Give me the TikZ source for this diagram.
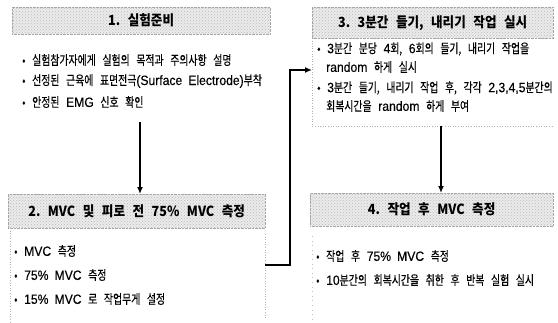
\documentclass[tikz,border=0pt]{standalone}
\usepackage{fontspec}
\newfontfamily\kr[FakeStretch=0.76, WordSpace=3.0, FakeBold=0.35]{Noto Sans CJK KR}
\newfontfamily\krh[FakeStretch=0.9, WordSpace=2.6]{Noto Sans CJK KR}
\newfontfamily\latf[FakeStretch=0.9, WordSpace=1.8, FakeBold=0.3]{Liberation Sans}
\newcommand\LatTxt[1]{{\latf\fontsize{13.5}{15}\selectfont #1}}
\usetikzlibrary{arrows.meta,patterns}
\tikzset{
  hdr/.style={draw=gray!70, densely dotted, preaction={fill=gray!16}, pattern=crosshatch dots, pattern color=gray!55, inner sep=0pt, font=\krh\bfseries\fontsize{14}{16}\selectfont},
  txt/.style={anchor=west, inner sep=0pt, font=\kr\fontsize{13}{15}\selectfont},
  bodyline/.style={draw=gray!60, dotted, line width=0.6pt},
  flow/.style={line width=1.6pt, -{Latex[length=7pt,width=6pt]}},
}
\begin{document}
\begin{tikzpicture}[x=1pt,y=-1pt]
\useasboundingbox (0,0) rectangle (558,322);
% headers
\node[hdr, minimum width=258pt, minimum height=27pt, anchor=north west] (h1) at (12,7) {1.\ 실험준비};
\node[hdr, minimum width=257pt, minimum height=34pt, anchor=north west] (h2) at (8,194) {2.\ MVC 및 피로 전 75\% MVC 측정};
\node[hdr, minimum width=241pt, minimum height=31pt, anchor=north west] (h3) at (312,7) {3.\ 3분간 들기, 내리기 작업 실시};
\node[hdr, minimum width=243pt, minimum height=33pt, anchor=north west] (h4) at (310,193) {4.\ 작업 후 MVC 측정};
% body 1
\node[txt] (t11) at (22,60) {•\ 실험참가자에게 실험의 목적과 주의사항 설명};
\node[txt] (t12) at (22,81) {•\ 선정된 근육에 표면전극\LatTxt{(Surface Electrode)}부착};
\node[txt] (t13) at (22,102) {•\ 안정된 \LatTxt{EMG} 신호 확인};
\coordinate (b1s) at (140,122);
% body 2
\draw[bodyline] (10,228) -- (10,322);
\draw[bodyline] (265,234) -- (265,318);
\node[txt] (t21) at (14,251) {•\ \LatTxt{MVC} 측정};
\node[txt] (t22) at (14,275) {•\ \LatTxt{75\% MVC} 측정};
\node[txt] (t23) at (14,299) {•\ \LatTxt{15\% MVC} 로 작업무게 설정};
\coordinate (b2e) at (265,265);
% body 3
\draw[bodyline] (312,38) -- (312,126) -- (553,126);
\node[txt] (t31) at (317,49) {•\ \LatTxt{3}분간 분당 \LatTxt{4}회, \LatTxt{6}회의 들기, 내리기 작업을};
\node[txt] (t32) at (326,67) {\LatTxt{random} 하게 실시};
\node[txt] (t33) at (317,88) {•\ \LatTxt{3}분간 들기, 내리기 작업 후, 각각 \LatTxt{2,3,4,5}분간의};
\node[txt] (t34) at (326,106) {회복시간을 \LatTxt{random} 하게 부여};
\coordinate (b3s) at (441,126);
\coordinate (b3w) at (312,70);
% body 4
\draw[draw=gray!50, loosely dotted, line width=0.6pt] (312,236) -- (312,322);
\node[txt] (t41) at (316,256) {•\ 작업 후 \LatTxt{75\% MVC} 측정};
\node[txt] (t42) at (316,280) {•\ \LatTxt{10}분간의 회복시간을 취한 후 반복 실험 실시};
% connectors
\draw[flow] (b1s) -- (b1s |- h2.north);
\draw[flow] (b2e) -- (290,265) -- (290,70) -- (b3w);
\draw[flow] (b3s) -- (b3s |- h4.north);
\end{tikzpicture}
\end{document}
